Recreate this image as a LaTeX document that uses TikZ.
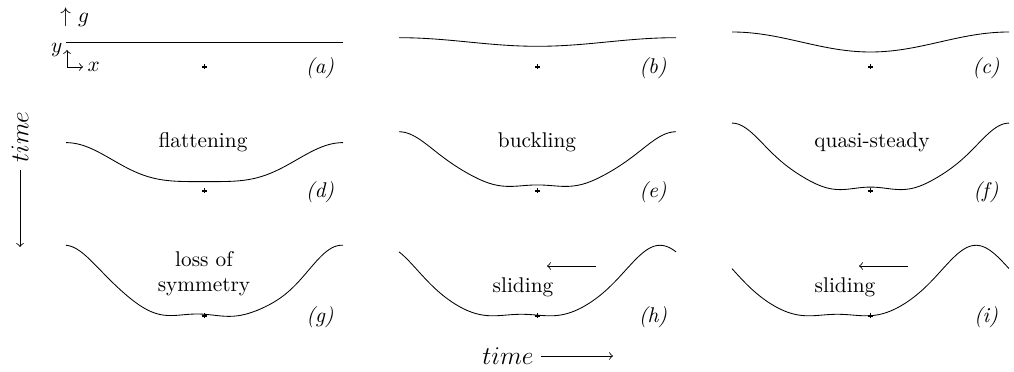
\documentclass[tikz,border=0pt]{standalone}
\usepackage{amsmath}
\usepackage{tikz}
\usetikzlibrary{arrows.meta, positioning}

\begin{document}
\begin{tikzpicture}[
    x=0.0165cm, y=-0.0165cm,
    declare function={prof(\q,\hh,\ww)=43-\hh*((1-\ww)*(cos(\q)+0.25*cos(2*\q))+\ww*(15*cos(\q)+6*cos(2*\q)+cos(3*\q))/16);},
    film/.style={thin, line join=round},
    tag/.style={font=\itshape, inner sep=1pt},
    stage/.style={align=center, inner sep=1pt},
    arrow/.style={-to, thin}
]
\useasboundingbox (0,0) rectangle (1014,372);

% centre marks and panel tags
\foreach \px/\py/\lab in {66/0/a, 399/0/b, 732/0/c, 66/124/d, 399/124/e, 732/124/f, 66/249/g, 399/249/h, 732/249/i} {
    \draw[line width=0.55pt] (\px+138.5,\py+64.5) -- (\px+138.5,\py+69.5) (\px+136,\py+67) -- (\px+141,\py+67);
    \node[tag] (tag\lab) at (\px+254,\py+68) {(\lab)};
}

% axes and gravity
\node[anchor=west, inner sep=0pt] (grav) at (60,17) {$\uparrow$ $g$};
\coordinate (orig) at (67,67);
\coordinate (ytip) at (67,50);
\coordinate (xtip) at (83,67);
\draw[arrow] (orig) -- (ytip);
\draw[arrow] (orig) -- (xtip);
\node[left=1pt of ytip, inner sep=1pt] (ylab) {$y$};
\node[right=1pt of xtip, inner sep=1pt] (xlab) {$x$};

% first row
\draw[film] (66,42) -- (343,42);
\begin{scope}[shift={(399,0)}]
  \draw[film] plot[domain=0:277, samples=80] (\x, {42-4.3*cos(1.2996*\x)});
\end{scope}
\begin{scope}[shift={(732,0)}]
  \draw[film] plot[domain=0:277, samples=80] (\x, {42-10*cos(1.2996*\x)});
\end{scope}

% second row
\begin{scope}[shift={(66,124)}]
  \draw[film] plot[domain=0:277, samples=120] (\x, {prof(1.2996*\x, 19.5, 0)});
  \node[stage] (flat) at (137,18) {flattening};
\end{scope}
\begin{scope}[shift={(399,124)}]
  \draw[film] plot[domain=0:277, samples=120] (\x, {prof(1.2996*\x, 26.6, 0.3)-cos(5.1986*\x)});
  \node[stage] (buck) at (138,18) {buckling};
\end{scope}
\begin{scope}[shift={(732,124)}]
  \draw[film] plot[domain=0:277, samples=120] (\x, {prof(1.2996*\x, 32, 0.6)-1.5*cos(5.1986*\x)});
  \node[stage] (quasi) at (140,18) {quasi-steady};
\end{scope}

% third row
\begin{scope}[shift={(66,249)}]
  \draw[film] plot[domain=0:277, samples=120] (\x, {prof(1.2996*\x, 34.5, 0.6)-cos(5.1986*\x)+0.8*sin(5.1986*\x)});
  \node[stage] (loss) at (138,24.5) {loss of\\symmetry};
\end{scope}
\begin{scope}[shift={(399,249)}]
  \draw[film] plot[domain=0:277, samples=120] (\x, {prof(1.2996*(\x+16), 34.5, 0.6)-cos(5.1986*(\x+16))});
  \node[stage] (slideh) at (124,38) {sliding};
  \coordinate (slidehs) at (197,17);
  \coordinate (slidehe) at (148,17);
  \draw[arrow] (slidehs) -- (slidehe);
\end{scope}
\begin{scope}[shift={(732,249)}]
  \draw[film] plot[domain=0:277, samples=120] (\x, {prof(1.2996*(\x+33), 34.5, 0.6)-cos(5.1986*(\x+33))});
  \node[stage] (slidei) at (113,38) {sliding};
  \coordinate (slideis) at (176,17);
  \coordinate (slideie) at (127,17);
  \draw[arrow] (slideis) -- (slideie);
\end{scope}

% time axes
\node[rotate=90, font=\large] (tdown) at (20,137) {$time$};
\coordinate (tdownend) at (20,247);
\draw[arrow] (tdown) -- (tdownend);
\node[font=\large] (tright) at (508,356) {$time$};
\coordinate (trightend) at (613,356);
\draw[arrow] (tright) -- (trightend);

\end{tikzpicture}
\end{document}
